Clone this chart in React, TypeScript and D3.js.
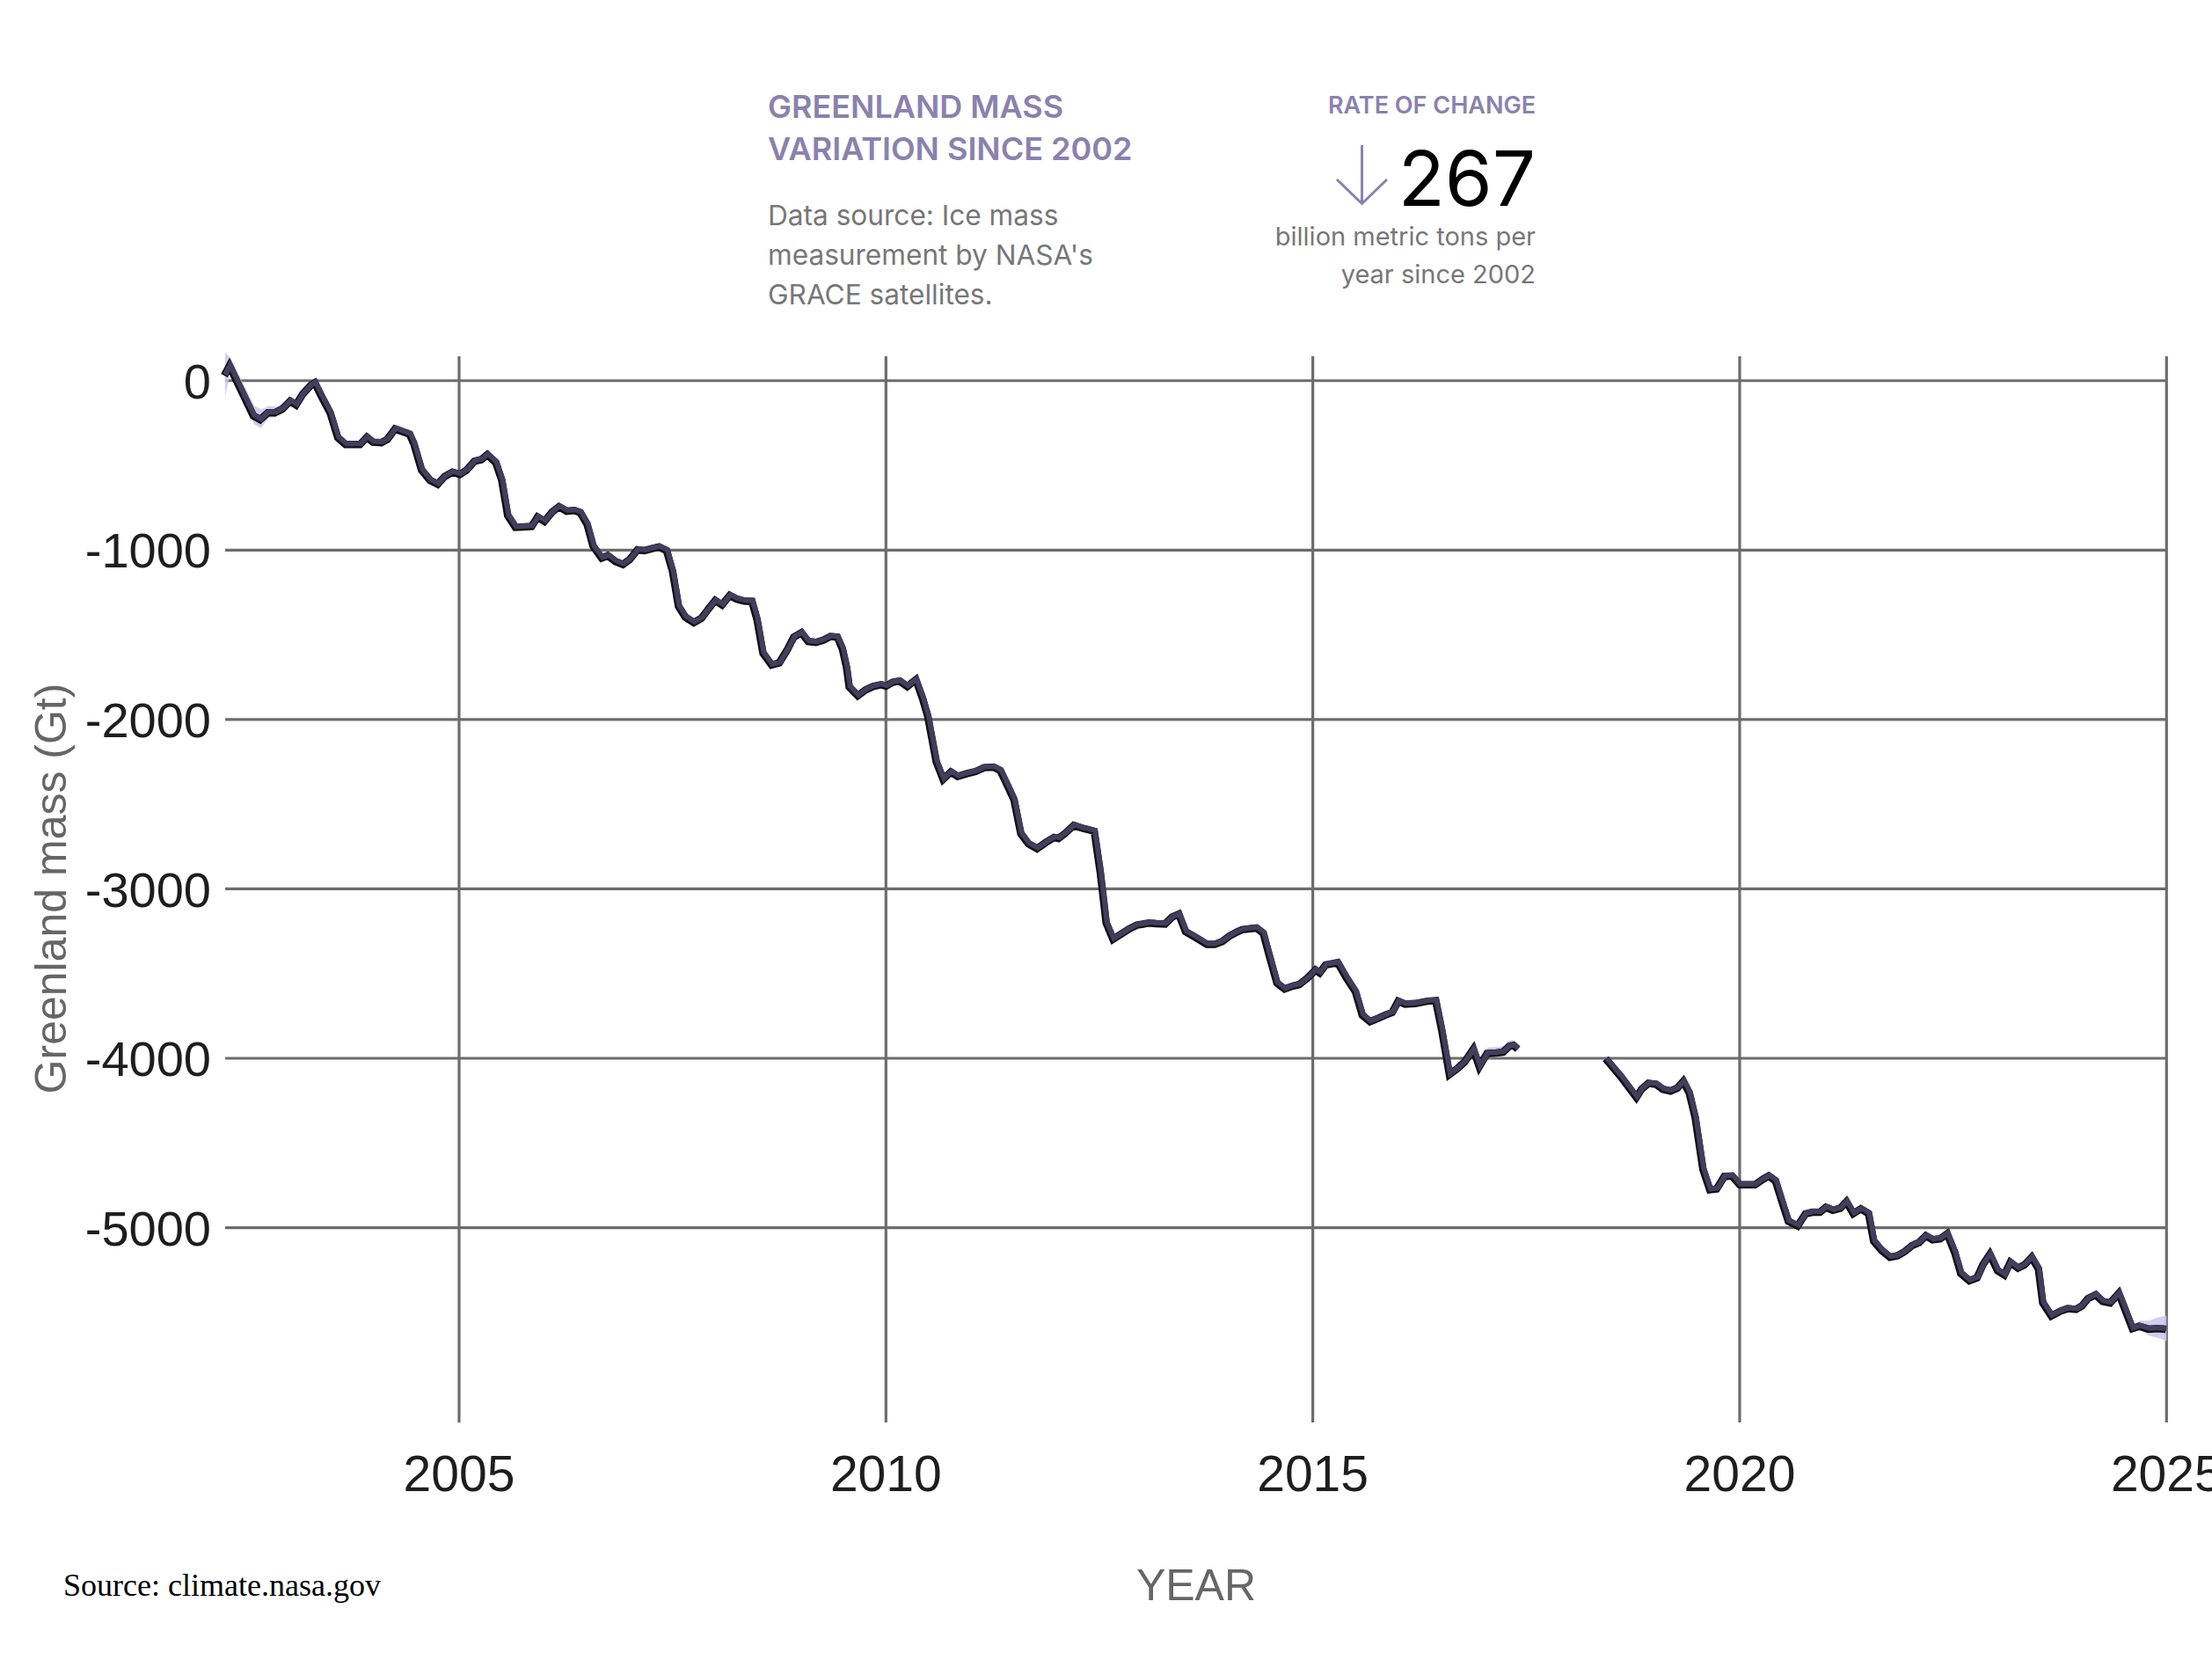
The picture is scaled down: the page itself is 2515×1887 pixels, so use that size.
import * as d3 from 'd3'
import { useEffect, useRef } from 'react'

// GRACE (2002-2017) and GRACE-FO (2018-) monthly Greenland mass, Gt
const graceYears = [
  2002.26, 2002.32, 2002.60, 2002.68, 2002.77, 2002.85, 2002.94, 2003.03, 2003.10, 2003.18,
  2003.27, 2003.32, 2003.41, 2003.50, 2003.59, 2003.68, 2003.76, 2003.85, 2003.93, 2004.00,
  2004.10, 2004.17, 2004.26, 2004.35, 2004.43, 2004.48, 2004.57, 2004.67, 2004.76, 2004.84,
  2004.93, 2005.02, 2005.10, 2005.19, 2005.27, 2005.34, 2005.44, 2005.51, 2005.58, 2005.67,
  2005.76, 2005.86, 2005.93, 2006.01, 2006.10, 2006.18, 2006.27, 2006.36, 2006.43, 2006.51,
  2006.58, 2006.68, 2006.75, 2006.84, 2006.93, 2007.01, 2007.10, 2007.18, 2007.27, 2007.35,
  2007.44, 2007.51, 2007.58, 2007.66, 2007.76, 2007.85, 2007.94, 2008.01, 2008.09, 2008.18,
  2008.26, 2008.35, 2008.44, 2008.50, 2008.57, 2008.67, 2008.76, 2008.85, 2008.93, 2009.02,
  2009.10, 2009.19, 2009.28, 2009.36, 2009.44, 2009.50, 2009.55, 2009.58, 2009.68, 2009.77,
  2009.86, 2009.95, 2010.01, 2010.09, 2010.17, 2010.26, 2010.36, 2010.44, 2010.50, 2010.60,
  2010.68, 2010.77, 2010.85, 2010.96, 2011.06, 2011.16, 2011.27, 2011.35, 2011.44, 2011.51,
  2011.59, 2011.68, 2011.78, 2011.88, 2011.98, 2012.03, 2012.11, 2012.21, 2012.31, 2012.38,
  2012.45, 2012.52, 2012.59, 2012.67, 2012.78, 2012.86, 2012.95, 2013.02, 2013.09, 2013.18,
  2013.28, 2013.36, 2013.44, 2013.52, 2013.64, 2013.77, 2013.86, 2013.95, 2014.03, 2014.12,
  2014.18, 2014.27, 2014.35, 2014.43, 2014.49, 2014.59, 2014.68, 2014.77, 2014.85, 2014.95,
  2015.04, 2015.09, 2015.16, 2015.23, 2015.30, 2015.40, 2015.51, 2015.59, 2015.68, 2015.78,
  2015.86, 2015.94, 2016.01, 2016.09, 2016.21, 2016.35, 2016.45, 2016.52, 2016.61, 2016.71,
  2016.79, 2016.89, 2016.96, 2017.05, 2017.16, 2017.24, 2017.31, 2017.36, 2017.41,
]
const graceMass = [
  35, 92, -202, -225, -185, -185, -162, -116, -138, -73,
  -24, -8, -99, -185, -332, -372, -372, -372, -329, -358,
  -361, -341, -280, -296, -311, -367, -522, -583, -606, -561,
  -535, -549, -522, -470, -461, -432, -479, -583, -791, -860,
  -858, -855, -800, -825, -770, -739, -765, -761, -774, -843,
  -972, -1042, -1028, -1062, -1080, -1050, -993, -998, -986, -976,
  -998, -1119, -1327, -1391, -1423, -1397, -1336, -1293, -1319, -1263,
  -1284, -1296, -1298, -1405, -1604, -1673, -1661, -1587, -1509, -1483,
  -1535, -1540, -1526, -1505, -1509, -1578, -1691, -1803, -1855, -1821,
  -1800, -1790, -1798, -1775, -1768, -1800, -1760, -1872, -1976, -2245,
  -2348, -2305, -2331, -2314, -2302, -2279, -2276, -2297, -2392, -2469,
  -2669, -2729, -2757, -2722, -2691, -2697, -2667, -2620, -2637, -2645,
  -2655, -2894, -3196, -3292, -3257, -3231, -3209, -3203, -3196, -3200,
  -3202, -3162, -3144, -3248, -3283, -3323, -3323, -3305, -3275, -3250,
  -3236, -3230, -3226, -3257, -3370, -3551, -3586, -3569, -3560, -3520,
  -3474, -3491, -3444, -3437, -3430, -3517, -3603, -3741, -3779, -3758,
  -3740, -3724, -3658, -3675, -3672, -3658, -3655, -3828, -4091, -4053,
  -4015, -3941, -4045, -3967, -3964, -3958, -3924, -3919, -3941,
]
const graceSigma = [
  130, 45, 55, 55, 35, 30, 28, 25, 20, 15,
  12, 12, 12, 12, 12, 12, 12, 12, 12, 12,
  12, 12, 12, 12, 12, 12, 12, 12, 12, 12,
  12, 12, 12, 12, 12, 12, 12, 12, 12, 12,
  12, 12, 12, 12, 12, 12, 12, 12, 12, 12,
  12, 12, 12, 12, 12, 12, 12, 12, 12, 12,
  12, 12, 12, 12, 12, 12, 12, 12, 12, 12,
  12, 12, 12, 12, 12, 12, 12, 12, 12, 12,
  12, 12, 12, 12, 12, 12, 12, 12, 12, 12,
  12, 12, 12, 12, 12, 12, 12, 12, 12, 12,
  12, 12, 12, 12, 12, 12, 12, 12, 12, 12,
  12, 12, 12, 12, 12, 12, 12, 12, 12, 12,
  12, 12, 12, 12, 12, 12, 12, 12, 12, 12,
  12, 12, 12, 12, 12, 12, 12, 12, 12, 12,
  12, 12, 12, 12, 12, 12, 12, 12, 12, 12,
  25, 20, 12, 12, 12, 12, 12, 12, 12, 12,
  12, 12, 12, 12, 12, 12, 12, 12, 12, 12,
  12, 12, 12, 30, 30, 30, 30, 25, 20,
]

const foYears = [
  2018.44, 2018.62, 2018.80, 2018.86, 2018.94, 2019.03, 2019.11, 2019.20, 2019.28, 2019.35,
  2019.42, 2019.49, 2019.58, 2019.66, 2019.74, 2019.83, 2019.92, 2020.01, 2020.09, 2020.19,
  2020.28, 2020.35, 2020.43, 2020.50, 2020.58, 2020.69, 2020.78, 2020.86, 2020.95, 2021.02,
  2021.10, 2021.19, 2021.26, 2021.34, 2021.43, 2021.52, 2021.58, 2021.67, 2021.77, 2021.86,
  2021.95, 2022.03, 2022.11, 2022.19, 2022.27, 2022.36, 2022.44, 2022.53, 2022.60, 2022.70,
  2022.79, 2022.86, 2022.94, 2023.03, 2023.11, 2023.18, 2023.27, 2023.35, 2023.43, 2023.51,
  2023.56, 2023.66, 2023.77, 2023.85, 2023.95, 2024.02, 2024.09, 2024.18, 2024.26, 2024.35,
  2024.45, 2024.52, 2024.61, 2024.69, 2024.80, 2024.90, 2025.00,
]
const foMass = [
  -3998, -4105, -4226, -4178, -4143, -4148, -4178, -4188, -4171, -4131,
  -4200, -4347, -4650, -4771, -4766, -4693, -4690, -4741, -4741, -4741,
  -4710, -4690, -4719, -4832, -4957, -4984, -4914, -4904, -4904, -4875,
  -4892, -4880, -4842, -4912, -4884, -4912, -5074, -5128, -5169, -5160,
  -5134, -5100, -5083, -5043, -5066, -5060, -5031, -5143, -5265, -5308,
  -5291, -5213, -5152, -5248, -5274, -5200, -5234, -5213, -5170, -5239,
  -5438, -5516, -5487, -5473, -5477, -5456, -5413, -5391, -5430, -5439,
  -5383, -5473, -5590, -5577, -5594, -5590, -5594,
]
const foSigma = [
  14, 12, 12, 12, 12, 12, 12, 12, 12, 12,
  12, 12, 12, 12, 12, 12, 12, 12, 12, 12,
  12, 12, 12, 12, 12, 12, 12, 12, 12, 12,
  12, 12, 12, 12, 12, 12, 12, 12, 12, 12,
  12, 12, 12, 12, 12, 12, 12, 12, 12, 12,
  12, 12, 12, 12, 12, 12, 12, 12, 12, 12,
  12, 12, 12, 12, 12, 12, 12, 12, 12, 12,
  12, 12, 18, 28, 45, 60, 75,
]

const xTicks = [2005, 2010, 2015, 2020, 2025]
const yTicks = [0, -1000, -2000, -3000, -4000, -5000]

const titleLines = ['GREENLAND MASS', 'VARIATION SINCE 2002']
const sourceLines = ['Data source: Ice mass', "measurement by NASA's", 'GRACE satellites.']
const rateLabel = 'RATE OF CHANGE'
const rateValue = '267'
const rateUnitLines = ['billion metric tons per', 'year since 2002']

const W = 2515
const H = 1887
const purple = '#8a82ad'

type Pt = { t: number, v: number, s: number }

function toPoints(years: number[], mass: number[], sigma: number[]): Pt[] {
  return years.map((t, i) => ({ t, v: mass[i], s: sigma[i] }))
}

export default function App() {
  const svgRef = useRef<SVGSVGElement>(null)

  useEffect(() => {
    const svg = d3.select(svgRef.current)
    svg.selectAll('*').remove()

    const x = d3.scaleLinear().domain([2002.26, 2025]).range([256, 2463.3])
    const y = d3.scaleLinear().domain([-6150, 144]).range([1617, 405])

    const segments = [
      toPoints(graceYears, graceMass, graceSigma),
      toPoints(foYears, foMass, foSigma),
    ]

    // grid
    const grid = svg.append('g')
    grid.selectAll('.hg')
      .data(yTicks)
      .join('line')
      .attr('x1', x(2002.26)).attr('x2', x(2025))
      .attr('y1', d => y(d)).attr('y2', d => y(d))
      .attr('stroke', '#6c6c6c').attr('stroke-width', 3.2)
    grid.selectAll('.vg')
      .data(xTicks)
      .join('line')
      .attr('x1', d => x(d)).attr('x2', d => x(d))
      .attr('y1', y(144)).attr('y2', y(-6150))
      .attr('stroke', '#6c6c6c').attr('stroke-width', 3.2)

    // tick labels
    svg.append('g').selectAll('text')
      .data(yTicks)
      .join('text')
      .attr('x', 240)
      .attr('y', d => y(d))
      .attr('dy', '0.36em')
      .attr('text-anchor', 'end')
      .attr('font-family', '"Liberation Sans", Arial, sans-serif')
      .attr('font-size', 56)
      .attr('fill', '#1e1e1e')
      .text(d => String(d))

    svg.append('g').selectAll('text')
      .data(xTicks)
      .join('text')
      .attr('x', d => x(d))
      .attr('y', 1695)
      .attr('text-anchor', 'middle')
      .attr('font-family', '"Liberation Sans", Arial, sans-serif')
      .attr('font-size', 57)
      .attr('fill', '#1e1e1e')
      .text(d => String(d))

    // uncertainty band
    const band = d3.area<Pt>()
      .x(d => x(d.t))
      .y0(d => y(d.v - d.s))
      .y1(d => y(d.v + d.s))

    svg.append('g').selectAll('path')
      .data(segments)
      .join('path')
      .attr('d', d => band(d))
      .attr('fill', '#cbc4ef')
      .attr('opacity', 0.85)

    const line = d3.line<Pt>().x(d => x(d.t)).y(d => y(d.v))

    svg.append('g').selectAll('path')
      .data(segments)
      .join('path')
      .attr('d', d => line(d))
      .attr('fill', 'none')
      .attr('stroke', '#111')
      .attr('stroke-width', 8.5)
      .attr('stroke-linejoin', 'miter')
      .attr('transform', 'translate(-1,1)')

    svg.append('g').selectAll('path')
      .data(segments)
      .join('path')
      .attr('d', d => line(d))
      .attr('fill', 'none')
      .attr('stroke', '#433d5e')
      .attr('stroke-width', 6)
      .attr('stroke-linejoin', 'miter')

    // axis titles
    svg.append('text')
      .attr('transform', 'translate(75,1010) rotate(-90)')
      .attr('text-anchor', 'middle')
      .attr('font-family', '"Liberation Sans", Arial, sans-serif')
      .attr('font-size', 50)
      .attr('fill', '#666')
      .text('Greenland mass (Gt)')

    svg.append('text')
      .attr('x', 1360).attr('y', 1819)
      .attr('text-anchor', 'middle')
      .attr('font-family', '"Liberation Sans", Arial, sans-serif')
      .attr('font-size', 50)
      .attr('fill', '#666')
      .text('YEAR')

    svg.append('text')
      .attr('x', 72).attr('y', 1814)
      .attr('font-family', '"Liberation Serif", "Times New Roman", serif')
      .attr('font-size', 36)
      .attr('fill', '#000')
      .text('Source: climate.nasa.gov')

    // header block
    const head = svg.append('g').attr('font-family', 'Inter, "Noto Sans", sans-serif')
    head.selectAll('.title')
      .data(titleLines)
      .join('text')
      .attr('x', 873)
      .attr('y', (_, i) => 134 + i * 48)
      .attr('font-size', 36)
      .attr('font-weight', 600)
      .attr('fill', purple)
      .text(d => d)

    head.selectAll('.src')
      .data(sourceLines)
      .join('text')
      .attr('x', 873)
      .attr('y', (_, i) => 256 + i * 45)
      .attr('font-size', 31.6)
      .attr('fill', '#777')
      .text(d => d)

    head.append('text')
      .attr('x', 1746).attr('y', 129)
      .attr('text-anchor', 'end')
      .attr('font-size', 27)
      .attr('font-weight', 600)
      .attr('fill', purple)
      .text(rateLabel)

    head.append('path')
      .attr('d', 'M1548.5,165 L1548.5,231 M1520,204 L1548.5,231.5 L1577,204')
      .attr('fill', 'none')
      .attr('stroke', purple)
      .attr('stroke-width', 3)

    head.append('text')
      .attr('x', 1746).attr('y', 234)
      .attr('text-anchor', 'end')
      .attr('font-size', 87)
      .attr('fill', '#000')
      .text(rateValue)

    head.selectAll('.unit')
      .data(rateUnitLines)
      .join('text')
      .attr('x', 1746)
      .attr('y', (_, i) => 279 + i * 43)
      .attr('text-anchor', 'end')
      .attr('font-size', 29)
      .attr('fill', '#777')
      .text(d => d)
  }, [])

  return (
    <div style={{ position: 'absolute', left: 0, top: 0, width: W, height: H, overflow: 'hidden', background: '#fff' }}>
      <svg ref={svgRef} width={W} height={H} style={{ display: 'block' }} />
    </div>
  )
}
